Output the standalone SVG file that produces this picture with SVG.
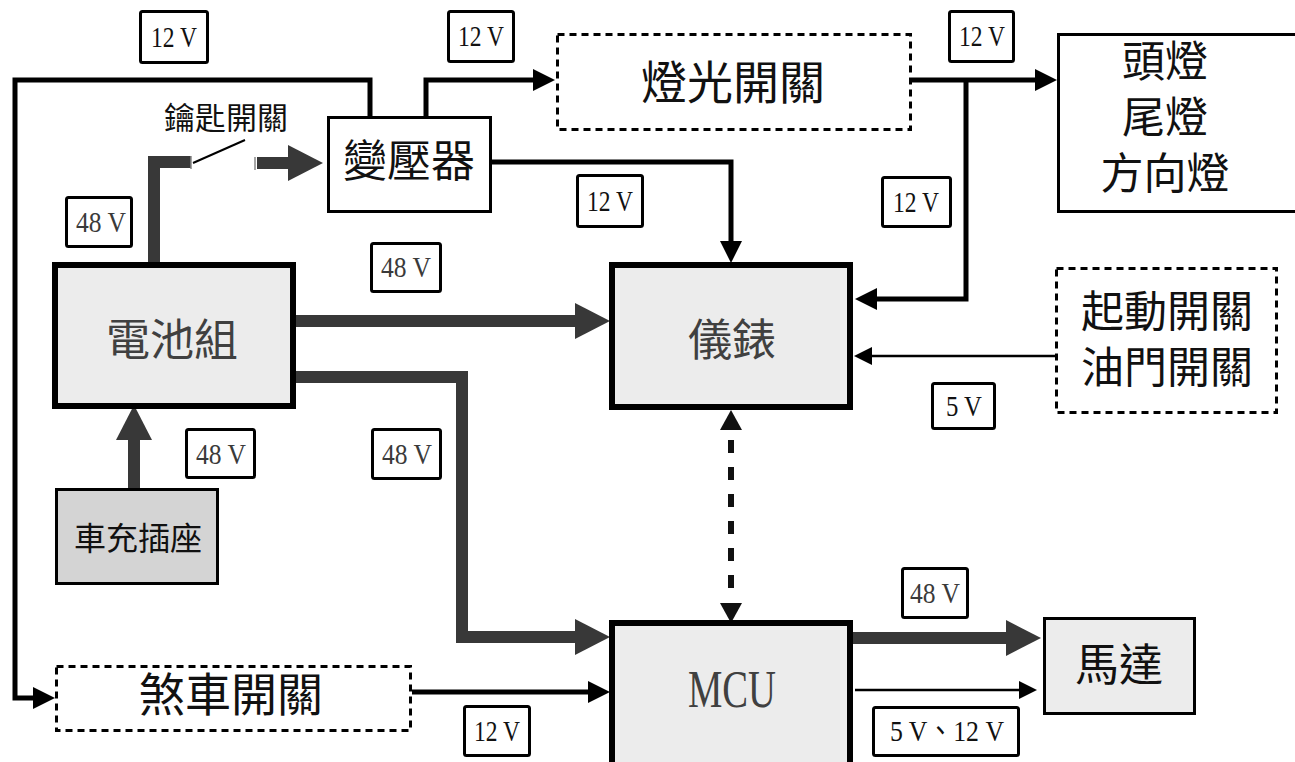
<svg xmlns="http://www.w3.org/2000/svg" width="1295" height="762" viewBox="0 0 1295 762">
<style>
.box{stroke:#000;stroke-width:3;fill:#fff}
.thick{stroke:#000;stroke-width:6;fill:#ececec}
.dash{stroke:#000;stroke-width:3;fill:#fff;stroke-dasharray:7 5}
.lbl{stroke:#000;stroke-width:3;fill:#fff}
.cjk{font-family:"Noto Sans CJK TC","Noto Sans CJK SC",sans-serif;text-anchor:middle;fill:#111}
.gtxt{fill:#404040}
.num{font-family:"Liberation Serif","Noto Sans CJK TC",serif;font-size:30px;text-anchor:middle;fill:#111}
.num48{fill:#3a3a3a}
.bl{stroke:#000;stroke-width:5;fill:none;stroke-linejoin:miter}
.gr{stroke:#383838;stroke-width:12;fill:none;stroke-linejoin:miter}
.thin{stroke:#000;stroke-width:2.5;fill:none}
</style>
<defs>
<marker id="mB" markerUnits="userSpaceOnUse" markerWidth="22" markerHeight="22" refX="0" refY="11" orient="auto" overflow="visible"><path d="M0,0 L22,11 L0,22 z" fill="#000"/></marker>
<marker id="mG" markerUnits="userSpaceOnUse" markerWidth="35" markerHeight="36" refX="0" refY="18" orient="auto" overflow="visible"><path d="M0,0 L35,18 L0,36 z" fill="#383838"/></marker>
<marker id="mT" markerUnits="userSpaceOnUse" markerWidth="18" markerHeight="18" refX="0" refY="9" orient="auto" overflow="visible"><path d="M0,0 L18,9 L0,18 z" fill="#000"/></marker>
</defs>
<rect width="1295" height="762" fill="#fff"/>

<g id="connectors">
<path class="bl" d="M370,117 V80 H15 V698 H33" marker-end="url(#mB)"/>
<path class="bl" d="M426,117 V80 H533" marker-end="url(#mB)"/>
<path class="bl" d="M912,80 H1035" marker-end="url(#mB)"/>
<path class="bl" d="M966,80 V299 H877" marker-end="url(#mB)"/>
<path class="bl" d="M492,162 H731 V241" marker-end="url(#mB)"/>
<path class="bl" d="M412,692 H588" marker-end="url(#mB)"/>
<path class="gr" d="M154,265 V162 H191"/>
<line x1="191" y1="156" x2="191" y2="169" stroke="#888" stroke-width="1.5"/>
<line x1="193" y1="163" x2="245" y2="140" stroke="#000" stroke-width="2"/>
<line x1="255" y1="157" x2="255" y2="170" stroke="#888" stroke-width="1.5"/>
<path class="gr" d="M257,163 H288" stroke-width="11" marker-end="url(#mG)"/>
<path class="gr" d="M296,321 H575" marker-end="url(#mG)"/>
<path class="gr" d="M296,377 H462 V637 H575" marker-end="url(#mG)"/>
<path class="gr" d="M134,488 V440" marker-end="url(#mG)"/>
<path class="gr" d="M853,638 H1006" marker-end="url(#mG)"/>
<path class="thin" d="M1055,356 H872" marker-end="url(#mT)"/>
<path class="thin" d="M855,690 H1019" marker-end="url(#mT)"/>
<path d="M731,440 V590" stroke="#111" stroke-width="6" stroke-dasharray="13 14" fill="none"/>
<polygon points="720,430 742,430 731,410" fill="#111"/>
<polygon points="720,603 742,603 731,623" fill="#111"/>
</g>

<g id="transformer">
<rect class="box" x="328.5" y="117.5" width="162" height="94"/>
<text class="cjk" x="409" y="177" font-size="44">變壓器</text>
</g>
<g id="key-switch-label">
<text class="cjk" x="226" y="129" font-size="31">鑰匙開關</text>
</g>
<g id="light-switch">
<rect class="dash" x="557.5" y="34.5" width="353" height="95"/>
<text class="cjk" x="733" y="99" font-size="46">燈光開關</text>
</g>
<g id="lamps">
<rect class="box" x="1058.5" y="34.5" width="250" height="177"/>
<text class="cjk" x="1165" y="77" font-size="43">頭燈</text>
<text class="cjk" x="1165" y="133" font-size="43">尾燈</text>
<text class="cjk" x="1165" y="189" font-size="43">方向燈</text>
</g>
<g id="battery">
<rect class="thick" x="55" y="265" width="238" height="141"/>
<text class="cjk gtxt" x="172" y="356" font-size="44">電池組</text>
</g>
<g id="meter">
<rect class="thick" x="612" y="265" width="238" height="142"/>
<text class="cjk gtxt" x="732" y="356" font-size="44">儀錶</text>
</g>
<g id="start-throttle">
<rect class="dash" x="1056.5" y="268.5" width="220" height="144"/>
<text class="cjk" x="1167" y="327" font-size="43">起動開關</text>
<text class="cjk" x="1167" y="383" font-size="43">油門開關</text>
</g>
<g id="charger">
<rect x="56.5" y="489.5" width="161" height="94" fill="#d4d4d4" stroke="#000" stroke-width="3"/>
<text class="cjk" x="138" y="550" font-size="32" fill="#222">車充插座</text>
</g>
<g id="mcu">
<rect class="thick" x="612" y="623" width="238" height="150"/>
<text x="732" y="707" font-family="Liberation Serif, serif" font-size="52" fill="#404040" text-anchor="middle" textLength="88" lengthAdjust="spacingAndGlyphs">MCU</text>
</g>
<g id="motor">
<rect x="1044.5" y="618.5" width="150" height="95" fill="#ececec" stroke="#000" stroke-width="3"/>
<text class="cjk" x="1119" y="681" font-size="44">馬達</text>
</g>
<g id="brake-switch">
<rect class="dash" x="56.5" y="666.5" width="354" height="64"/>
<text class="cjk" x="231" y="711" font-size="46">煞車開關</text>
</g>

<g id="labels">
<rect class="lbl" x="140.5" y="11.5" width="67" height="51" rx="2"/>
<text class="num" x="174" y="47" textLength="46" lengthAdjust="spacingAndGlyphs">12 V</text>
<rect class="lbl" x="448.5" y="11.5" width="65" height="50" rx="2"/>
<text class="num" x="481" y="46" textLength="46" lengthAdjust="spacingAndGlyphs">12 V</text>
<rect class="lbl" x="949.5" y="11.5" width="64" height="50" rx="2"/>
<text class="num" x="982" y="46" textLength="46" lengthAdjust="spacingAndGlyphs">12 V</text>
<rect class="lbl" x="66.5" y="197.5" width="65" height="49" rx="2"/>
<text class="num num48" x="101" y="232" textLength="50" lengthAdjust="spacingAndGlyphs">48 V</text>
<rect class="lbl" x="577.5" y="175.5" width="65" height="51" rx="2"/>
<text class="num" x="610" y="211" textLength="46" lengthAdjust="spacingAndGlyphs">12 V</text>
<rect class="lbl" x="882.5" y="177.5" width="68" height="49" rx="2"/>
<text class="num" x="916" y="212" textLength="46" lengthAdjust="spacingAndGlyphs">12 V</text>
<rect class="lbl" x="371.5" y="243.5" width="69" height="48" rx="2"/>
<text class="num num48" x="406" y="277" textLength="50" lengthAdjust="spacingAndGlyphs">48 V</text>
<rect class="lbl" x="932.5" y="383.5" width="62" height="45" rx="2"/>
<text class="num" x="964" y="416" textLength="36" lengthAdjust="spacingAndGlyphs">5 V</text>
<rect class="lbl" x="186.5" y="429.5" width="68" height="48" rx="2"/>
<text class="num num48" x="221" y="464" textLength="50" lengthAdjust="spacingAndGlyphs">48 V</text>
<rect class="lbl" x="372.5" y="429.5" width="68" height="49" rx="2"/>
<text class="num num48" x="407" y="464" textLength="50" lengthAdjust="spacingAndGlyphs">48 V</text>
<rect class="lbl" x="902.5" y="568.5" width="65" height="49" rx="2"/>
<text class="num num48" x="935" y="603" textLength="50" lengthAdjust="spacingAndGlyphs">48 V</text>
<rect class="lbl" x="464.5" y="706.5" width="65" height="49" rx="2"/>
<text class="num" x="497" y="741" textLength="46" lengthAdjust="spacingAndGlyphs">12 V</text>
<rect class="lbl" x="873.5" y="707.5" width="145" height="48" rx="2"/>
<text class="num" x="947" y="741" textLength="114" lengthAdjust="spacingAndGlyphs">5 V、12 V</text>
</g>
</svg>
